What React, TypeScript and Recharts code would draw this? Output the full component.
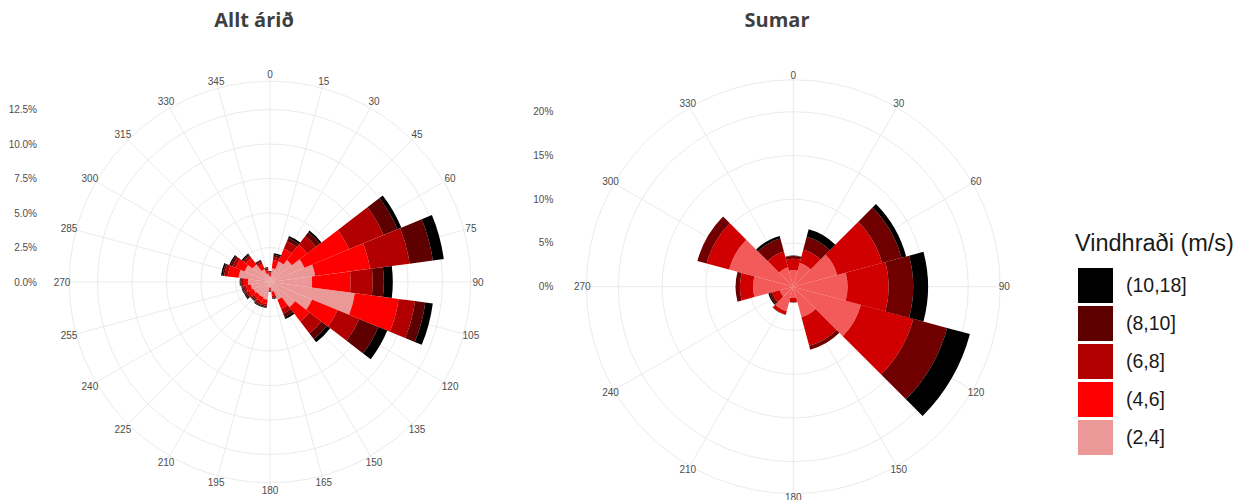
import React from 'react';
import { RadialBarChart, RadialBar, PolarGrid, PolarAngleAxis, PolarRadiusAxis } from 'recharts';

// ---------- Data: Allt árið (24 directions, % of time per speed class) ----------
const annualDirections = [0, 15, 30, 45, 60, 75, 90, 105, 120, 135, 150, 165, 180, 195, 210, 225, 240, 255, 270, 285, 300, 315, 330, 345];
const annual_2_4 = [0.4, 1.0, 1.6, 2.0, 2.7, 3.3, 3.05, 6.2, 3.3, 2.3, 1.4, 0.7, 0.4, 1.3, 1.2, 1.2, 1.3, 1.4, 1.6, 2.3, 2.0, 1.6, 1.0, 0.6];
const annual_4_6 = [0.2, 0.6, 1.0, 1.4, 3.5, 4.0, 2.8, 3.2, 2.0, 1.3, 0.7, 0.3, 0.15, 0.3, 0.35, 0.3, 0.35, 0.35, 0.3, 0.8, 0.7, 0.6, 0.4, 0.25];
const annual_6_8 = [0.1, 0.25, 0.6, 0.8, 2.7, 2.9, 1.6, 1.2, 1.7, 1.1, 0.4, 0.15, 0.07, 0.15, 0.2, 0.15, 0.2, 0.2, 0.15, 0.25, 0.25, 0.2, 0.2, 0.15];
const annual_8_10 = [0.05, 0.15, 0.25, 0.35, 1.1, 1.7, 0.8, 0.75, 1.5, 0.5, 0.25, 0.05, 0.04, 0.1, 0.1, 0.1, 0.12, 0.1, 0.1, 0.12, 0.15, 0.1, 0.1, 0.05];
const annual_10_18 = [0.05, 0.1, 0.15, 0.15, 0.3, 0.8, 0.65, 0.55, 0.7, 0.3, 0.15, 0.05, 0.04, 0.05, 0.05, 0.05, 0.08, 0.05, 0.05, 0.11, 0.1, 0.1, 0.05, 0.05];

// ---------- Data: Sumar (12 directions) ----------
const summerDirections = [0, 30, 60, 90, 120, 150, 180, 210, 240, 270, 300, 330];
const summer_2_4 = [1.9, 2.8, 5.2, 6.2, 8.0, 3.6, 1.3, 2.9, 1.6, 4.6, 7.6, 2.3];
const summer_4_6 = [1.3, 1.6, 5.3, 4.7, 6.2, 3.4, 0.45, 0.4, 0.9, 1.5, 2.65, 1.85];
const summer_6_8 = [0.3, 1.5, 2.3, 2.8, 4.0, 0.45, 0.05, 0.05, 0.3, 0.5, 1.1, 1.55];
const summer_8_18 = [0.05, 0.9, 0.55, 1.7, 2.7, 0, 0, 0, 0.15, 0, 0, 0.3];

// ---------- Labels / ticks ----------
const speedLabels = ['(2,4]', '(4,6]', '(6,8]', '(8,10]', '(10,18]'];
const annualColors = ['#EA9898', '#FF0000', '#B20000', '#5E0000', '#000000'];
const summerColors = ['#F35B5B', '#D00000', '#700000', '#000000'];
const annualRadiusTicks = [0, 2.5, 5, 7.5, 10, 12.5];
const annualRadiusMax = 14.55;
const summerRadiusTicks = [0, 5, 10, 15, 20];
const summerRadiusMax = 23.65;

const annualData = annualDirections.map((d, i) => ({
  dir: String(d),
  s1: annual_2_4[i],
  s2: annual_4_6[i],
  s3: annual_6_8[i],
  s4: annual_8_10[i],
  s5: annual_10_18[i],
}));

const summerData = summerDirections.map((d, i) => ({
  dir: String(d),
  s1: summer_2_4[i],
  s2: summer_4_6[i],
  s3: summer_6_8[i],
  s4: summer_8_18[i],
}));

const annualSeries = [
  { key: 's1', name: speedLabels[0], color: annualColors[0] },
  { key: 's2', name: speedLabels[1], color: annualColors[1] },
  { key: 's3', name: speedLabels[2], color: annualColors[2] },
  { key: 's4', name: speedLabels[3], color: annualColors[3] },
  { key: 's5', name: speedLabels[4], color: annualColors[4] },
];
const summerSeries = [
  { key: 's1', name: '(2,4]', color: summerColors[0] },
  { key: 's2', name: '(4,6]', color: summerColors[1] },
  { key: 's3', name: '(6,8]', color: summerColors[2] },
  { key: 's4', name: '(8,18]', color: summerColors[3] },
];

const LABEL_FONT = '"Liberation Sans", Arial, sans-serif';
const TICK_COLOR = '#4D4D4D';

const AngleTick = (props: any) => {
  const { x, y, payload } = props;
  return (
    <text x={x} y={y} textAnchor="middle" dominantBaseline="central" fontSize={10} fill={TICK_COLOR} fontFamily={LABEL_FONT}>
      {payload.value}
    </text>
  );
};

const makeRadiusTick = (shift: number, max: number, fmt: (v: number) => string) => (props: any) => {
  const { x, y, payload } = props;
  if (payload.value >= max - 1e-6) return null;
  return (
    <text x={x - shift} y={y} textAnchor="end" dominantBaseline="central" fontSize={10} fill={TICK_COLOR} fontFamily={LABEL_FONT}>
      {fmt(payload.value)}
    </text>
  );
};

const annualRadiusTick = makeRadiusTick(233, annualRadiusMax, (v) => v.toFixed(1) + '%');
const summerRadiusTick = makeRadiusTick(240, summerRadiusMax, (v) => String(v) + '%');

// Layer with grid, direction labels and radius labels (ticks centred on the directions)
const RoseGrid = ({ data, cx, cy, outer, max, ticks, radiusTick, width }: any) => (
  <RadialBarChart
    width={width}
    height={500}
    cx={cx}
    cy={cy}
    innerRadius={0}
    outerRadius={outer}
    data={data}
    layout="centric"
    startAngle={90}
    endAngle={-270}
    margin={{ top: 0, right: 0, bottom: 0, left: 0 }}
  >
    <PolarGrid gridType="circle" stroke="#EBEBEB" strokeWidth={1} />
    <PolarAngleAxis dataKey="dir" type="category" axisLine={false} tickLine={false} tickSize={1} tick={<AngleTick />} />
    <PolarRadiusAxis type="number" angle={90} domain={[0, max]} allowDataOverflow ticks={[...ticks, max]} axisLine={false} tick={radiusTick} />
  </RadialBarChart>
);

// Layer with the stacked bars; the band scale starts half a sector earlier so each wedge is centred on its direction
const RoseBars = ({ data, series, cx, cy, outer, max, width, step }: any) => (
  <RadialBarChart
    width={width}
    height={500}
    cx={cx}
    cy={cy}
    innerRadius={0}
    outerRadius={outer}
    data={data}
    layout="centric"
    startAngle={90 - step / 2}
    endAngle={90 - step / 2 - 360}
    barCategoryGap={0}
    barGap={0}
    margin={{ top: 0, right: 0, bottom: 0, left: 0 }}
  >
    <PolarAngleAxis dataKey="dir" type="category" axisLine={false} tickLine={false} tick={false} />
    <PolarRadiusAxis type="number" angle={90} domain={[0, max]} allowDataOverflow axisLine={false} tick={false} />
    {series.map((s: any) => (
      <RadialBar key={s.key} dataKey={s.key} name={s.name} stackId="a" fill={s.color} stroke="none" isAnimationActive={false} />
    ))}
  </RadialBarChart>
);

const layer: React.CSSProperties = { position: 'absolute', top: 0 };
const titleStyle: React.CSSProperties = {
  position: 'absolute',
  top: 6,
  width: 200,
  textAlign: 'center',
  fontFamily: '"Open Sans", sans-serif',
  fontWeight: 700,
  fontSize: 20,
  color: '#3F3F3F',
};

export default function App() {
  return (
    <div style={{ position: 'absolute', left: 0, top: 0, width: 1249, height: 500, background: '#fff', overflow: 'hidden' }}>
      <div style={{ ...layer, left: 0 }}>
        <RoseGrid data={annualData} cx={270} cy={282} outer={207} max={annualRadiusMax} ticks={annualRadiusTicks} radiusTick={annualRadiusTick} width={520} />
      </div>
      <div style={{ ...layer, left: 0 }}>
        <RoseBars data={annualData} series={annualSeries} cx={270} cy={282} outer={207} max={annualRadiusMax} width={520} step={15} />
      </div>
      <div style={{ ...layer, left: 520 }}>
        <RoseGrid data={summerData} cx={273.3} cy={286.7} outer={210} max={summerRadiusMax} ticks={summerRadiusTicks} radiusTick={summerRadiusTick} width={520} />
      </div>
      <div style={{ ...layer, left: 520 }}>
        <RoseBars data={summerData} series={summerSeries} cx={273.3} cy={286.7} outer={210} max={summerRadiusMax} width={520} step={30} />
      </div>
      <div style={{ ...titleStyle, left: 154 }}>Allt árið</div>
      <div style={{ ...titleStyle, left: 677 }}>Sumar</div>
      <div style={{ position: 'absolute', left: 1075, top: 228, fontFamily: LABEL_FONT, color: '#1A1A1A' }}>
        <div style={{ fontSize: 23.5, lineHeight: '30px', whiteSpace: 'nowrap' }}>Vindhraði (m/s)</div>
        <div style={{ marginTop: 8 }}>
          {speedLabels.map((lab, i) => ({ lab, color: annualColors[i] })).reverse().map((item) => (
            <div key={item.lab} style={{ display: 'flex', alignItems: 'center', height: 38 }}>
              <div style={{ width: 35, height: 35, background: item.color, marginLeft: 3 }} />
              <div style={{ marginLeft: 13, fontSize: 19.5 }}>{item.lab}</div>
            </div>
          ))}
        </div>
      </div>
    </div>
  );
}
